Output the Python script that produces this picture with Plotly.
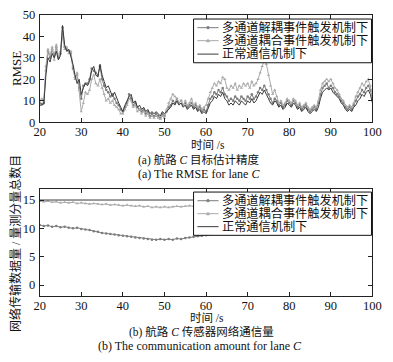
import numpy as np
import plotly.graph_objects as go

# ---------------- data ----------------
# (a) RMSE, sampled every 0.5 s from 20 s to 100 s
rmse_normal = [
    8, 8, 8.5, 22, 30, 28, 32, 30, 33, 29,
    31, 45, 36, 33, 34, 31, 27, 22, 18, 20,
    13, 16, 18, 17, 19, 24, 26, 22, 21, 27,
    22, 19, 16, 17, 14, 12, 14, 11, 9, 7,
    5, 8, 10, 12, 13, 9, 10, 7, 8, 6,
    7, 5, 6, 4, 5, 4, 5, 4, 3, 5,
    4, 5, 6, 7, 9, 8, 10, 8, 9, 7,
    8, 6, 7, 8, 6, 7, 5, 6, 4, 5,
    4, 7, 9, 10, 12, 11, 13, 12, 14, 11,
    10, 8, 9, 8, 10, 9, 8, 10, 9, 8,
    10, 9, 11, 9, 10, 12, 14, 13, 15, 13,
    11, 9, 8, 10, 9, 7, 8, 6, 7, 9,
    8, 7, 9, 8, 6, 7, 5, 6, 7, 5,
    4, 5, 6, 5, 7, 11, 14, 15, 16, 15,
    16, 14, 13, 12, 11, 9, 8, 6, 5, 6,
    5, 7, 8, 10, 11, 13, 12, 14, 15, 13,
    9,
]
rmse_decoupled = [
    9, 8.5, 9, 24, 33, 30, 34, 31, 35, 30,
    32, 44, 35, 34, 33, 32, 25, 21, 22, 16,
    11, 17, 18, 18, 20, 25, 24, 23, 22, 26,
    20, 17, 15, 14, 12, 13, 11, 9, 8, 6,
    5, 7, 9, 13, 11, 8, 9, 7, 6, 5,
    6, 4, 5, 3, 4, 3, 4, 3, 2, 4,
    3, 5, 7, 8, 10, 9, 11, 9, 10, 8,
    9, 7, 8, 9, 7, 8, 6, 7, 5, 6,
    5, 8, 11, 12, 14, 13, 15, 14, 16, 13,
    12, 10, 11, 10, 12, 11, 10, 12, 11, 10,
    12, 11, 13, 11, 12, 14, 16, 15, 17, 15,
    13, 11, 9, 11, 10, 8, 9, 7, 8, 10,
    9, 8, 10, 9, 7, 8, 6, 7, 8, 6,
    5, 6, 7, 6, 9, 13, 16, 17, 18, 16,
    17, 16, 14, 13, 12, 10, 9, 7, 6, 7,
    6, 8, 10, 12, 13, 15, 14, 16, 17, 15,
    11,
]
rmse_coupled = [
    10, 11, 10, 26, 34, 31, 35, 29, 36, 31,
    33, 40, 34, 35, 32, 33, 26, 20, 23, 15,
    5, 9, 14, 13, 15, 20, 22, 18, 17, 20,
    16, 13, 10, 11, 9, 10, 8, 7, 6, 4,
    4, 6, 8, 11, 10, 7, 8, 5, 6, 4,
    5, 3, 4, 2, 3, 2, 3, 2, 1.5, 3,
    2, 6, 9, 11, 13, 12, 11, 9, 10, 8,
    10, 8, 9, 11, 8, 9, 7, 8, 6, 7,
    8, 11, 14, 16, 18, 17, 19, 18, 21, 20,
    16, 15, 17, 16, 18, 15, 17, 16, 18, 17,
    18, 16, 19, 17, 18, 20, 23, 26, 29, 27,
    22, 17, 13, 15, 12, 9, 10, 8, 9, 11,
    10, 9, 11, 10, 8, 9, 7, 8, 9, 7,
    6, 7, 8, 7, 10, 15, 18, 19, 20, 19,
    20, 18, 16, 15, 13, 11, 10, 8, 7, 8,
    7, 9, 12, 14, 16, 18, 17, 19, 20, 17,
    13,
]

# (b) communication amount, sampled every 1 s from 20 s to 100 s
comm_decoupled = [
    10.6, 10.4, 10.5, 10.3, 10.4, 10.2, 10.3, 10.1, 10.0, 10.1,
    9.9, 9.8, 9.7, 9.5, 9.4, 9.2, 9.1, 9.0, 8.9, 8.8,
    8.7, 8.6, 8.5, 8.4, 8.3, 8.2, 8.1, 8.0, 8.0, 8.1,
    8.0, 8.1, 8.0, 8.2, 8.1, 8.3, 8.4, 8.5, 8.6, 8.7,
    8.8, 8.9, 9.0, 9.1, 9.2, 9.3, 9.4, 9.5, 9.6, 9.7,
    9.8, 9.9, 10.0, 10.1, 10.2, 10.3, 10.4, 10.5, 10.6, 10.6,
    10.7, 10.8, 10.8, 10.9, 11.0, 11.0, 11.1, 11.1, 11.2, 11.2,
    11.2, 11.3, 11.3, 11.3, 11.4, 11.4, 11.4, 11.4, 11.4, 11.5,
    11.4,
]
comm_coupled = [
    14.8, 14.7, 14.8, 14.6, 14.7, 14.5, 14.6, 14.5, 14.6, 14.4,
    14.5, 14.4, 14.3, 14.4, 14.3, 14.2, 14.3, 14.1, 14.2, 14.1,
    14.0, 14.1, 14.0, 13.9, 14.0, 13.8, 13.9, 13.7, 13.8, 13.7,
    13.8, 13.7, 13.8, 13.9, 13.8, 13.9, 14.0, 13.9, 14.0, 14.1,
    14.0, 14.1, 14.2, 14.1, 14.2, 14.3, 14.2, 14.3, 14.4, 14.3,
    14.4, 14.5, 14.4, 14.5, 14.6, 14.5, 14.6, 14.5, 14.6, 14.7,
    14.6, 14.7, 14.6, 14.7, 14.8, 14.7, 14.8, 14.7, 14.8, 14.8,
    14.7, 14.8, 14.9, 14.8, 14.9, 14.8, 14.9, 14.9, 14.8, 14.9,
    14.9,
]
comm_normal_t = [20, 100]
comm_normal = [15, 15]

names = ["多通道解耦事件触发机制下", "多通道耦合事件触发机制下", "正常通信机制下"]
xticks = [20, 30, 40, 50, 60, 70, 80, 90, 100]
yticks_a = [0, 10, 20, 30, 40, 50]
yticks_b = [0, 5, 10, 15]

t_a = 20 + 0.5 * np.arange(len(rmse_normal))
t_b = 20 + 1.0 * np.arange(len(comm_coupled))

# ---------------- styling ----------------
FONT = "Liberation Serif, Times New Roman, Noto Sans CJK SC, serif"
C_DEC = "#7c7c7c"
C_COU = "#ababab"
C_NOR = "#3a3a3a"
colors = [C_DEC, C_COU, C_NOR]

fig = go.Figure()

def add_series(x, y, k, xa, ya):
    if k == 0:
        fig.add_trace(go.Scatter(x=x, y=y, name=names[0], mode="lines+markers",
                                 line=dict(color=C_DEC, width=1),
                                 marker=dict(size=2.5, color=C_DEC, symbol="circle"),
                                 xaxis=xa, yaxis=ya, showlegend=False))
    elif k == 1:
        fig.add_trace(go.Scatter(x=x, y=y, name=names[1], mode="lines+markers",
                                 line=dict(color=C_COU, width=1),
                                 marker=dict(size=3, color=C_COU, symbol="triangle-up"),
                                 xaxis=xa, yaxis=ya, showlegend=False))
    else:
        fig.add_trace(go.Scatter(x=x, y=y, name=names[2], mode="lines",
                                 line=dict(color=C_NOR, width=1),
                                 xaxis=xa, yaxis=ya, showlegend=False))

add_series(t_a, rmse_decoupled, 0, "x", "y")
add_series(t_a, rmse_coupled, 1, "x", "y")
add_series(t_a, rmse_normal, 2, "x", "y")
add_series(t_b, comm_decoupled, 0, "x2", "y2")
add_series(t_b, comm_coupled, 1, "x2", "y2")
add_series(comm_normal_t, comm_normal, 2, "x2", "y2")

W, H = 393, 362
PX = lambda v: v / W
PY = lambda v: 1 - v / H
xdom = [PX(35), PX(381)]
ydom_a = [PY(120), PY(8)]
ydom_b = [PY(301), PY(189)]

axis_common = dict(showline=True, linecolor="#222", linewidth=1, mirror="ticks",
                   ticks="inside", ticklen=4, tickcolor="#222", showgrid=False, zeroline=False,
                   tickfont=dict(family=FONT, size=12.5, color="#111"),
                   ticklabeloverflow="allow")

fig.update_layout(
    width=W, height=H,
    margin=dict(l=0, r=0, t=0, b=0),
    paper_bgcolor="white", plot_bgcolor="white",
    showlegend=False,
    xaxis=dict(domain=xdom, range=[20, 100], tickvals=xticks, anchor="y", ticklabelstandoff=-2, **axis_common),
    yaxis=dict(domain=ydom_a, range=[0, 50], tickvals=yticks_a, anchor="x", ticklabelstandoff=1, **axis_common),
    xaxis2=dict(domain=xdom, range=[20, 100], tickvals=xticks, anchor="y2", ticklabelstandoff=-2, **axis_common),
    yaxis2=dict(domain=ydom_b, range=[-2, 17], tickvals=yticks_b, anchor="x2", ticklabelstandoff=1, **axis_common),
)

def txt(text, xpx, ypx, size=12, angle=0, xanchor="center"):
    fig.add_annotation(text=text, x=PX(xpx), y=PY(ypx), xref="paper", yref="paper",
                       showarrow=False, xanchor=xanchor, yanchor="middle", textangle=angle,
                       borderpad=0, font=dict(family=FONT, size=size, color="#111"))

# manual legends (box, sample lines, one marker, label)
def legend_box(top, bottom, rows):
    fig.add_shape(type="rect", xref="paper", yref="paper", x0=PX(195), x1=PX(380),
                  y0=PY(bottom), y1=PY(top), line=dict(color="#111", width=1),
                  fillcolor="white", layer="above")
    for k, ry in enumerate(rows):
        fig.add_shape(type="line", xref="paper", yref="paper", x0=PX(199), x1=PX(221),
                      y0=PY(ry), y1=PY(ry), line=dict(color=colors[k], width=1), layer="above")
        if k == 0:
            fig.add_shape(type="circle", xref="paper", yref="paper", x0=PX(208.6), x1=PX(211.4),
                          y0=PY(ry + 1.4), y1=PY(ry - 1.4), line=dict(color=C_DEC, width=0.5),
                          fillcolor=C_DEC, layer="above")
        elif k == 1:
            path = "M {} {} L {} {} L {} {} Z".format(PX(208.2), PY(ry + 1.3), PX(211.8), PY(ry + 1.3),
                                                       PX(210), PY(ry - 1.8))
            fig.add_shape(type="path", xref="paper", yref="paper", path=path,
                          line=dict(color=C_COU, width=0.5), fillcolor=C_COU, layer="above")
        txt(names[k], 224, ry, size=12.2, xanchor="left")

legend_box(12.5, 58, [21.5, 35, 49])
legend_box(192.5, 237.5, [201.5, 215, 228.5])

txt("RMSE", 11, 64, size=13, angle=-90)
txt("时间 /s", 210, 144, size=11.5)
txt("(a) 航路 <i>C</i> 目标估计精度", 201, 159, size=11.5)
txt("(a) The RMSE for lane <i>C</i>", 201, 174, size=12)

txt("网络传输数据量 / 量测分量总数目", 10, 246, size=12, angle=-90)
txt("时间 /s", 209, 323, size=11.5)
txt("(b) 航路 <i>C</i> 传感器网络通信量", 203, 338, size=11.5)
txt("(b) The communication amount for lane <i>C</i>", 202, 353, size=12)

fig.write_html("out.html", config={"displayModeBar": False},
               post_script="document.body.style.margin='0px';")
